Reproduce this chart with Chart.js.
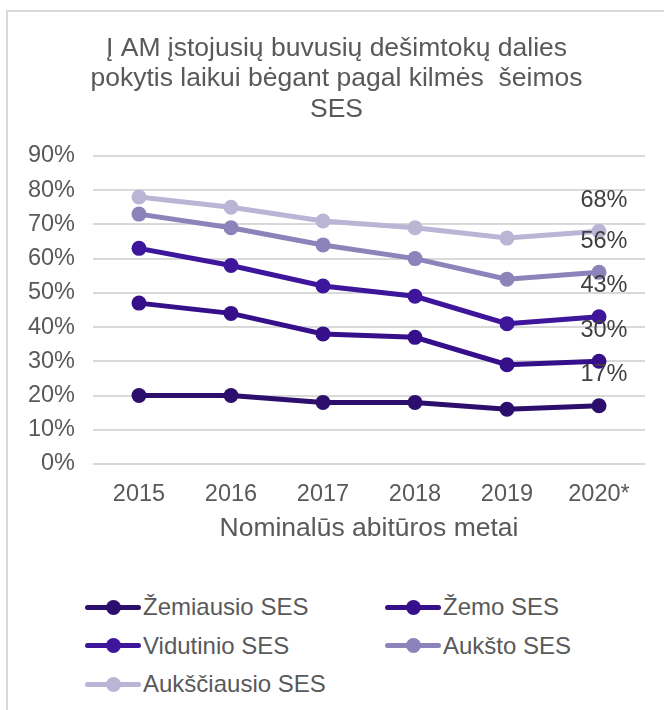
<!DOCTYPE html>
<html lang="lt">
<head>
<meta charset="utf-8">
<title>Į AM įstojusių buvusių dešimtokų dalies pokytis</title>
<script src="https://cdn.jsdelivr.net/npm/chart.js@4.4.1/dist/chart.umd.min.js"></script>
<style>
    html, body {
        margin: 0;
        padding: 0;
        width: 664px;
        height: 710px;
        overflow: hidden;
        background: #ffffff;
        font-family: "Liberation Sans", Arial, sans-serif;
    }
    #remelis {
        position: absolute;
        left: 6px;
        top: 10px;
        width: 700px;
        height: 720px;
        border-left: 2px solid #d9d9d9;
        border-top: 2px solid #d9d9d9;
    }
    #grafikas {
        position: absolute;
        left: 20px;
        top: 0;
    }
    #legenda {
        position: absolute;
        left: 77px;
        top: 576px;
        display: grid;
        grid-template-columns: 300px 250px;
    }
    .legendos-elementas {
        display: flex;
        align-items: center;
        height: 38.5px;
        font-size: 24px;
        color: #595959;
        white-space: nowrap;
    }
    .legendos-zyme {
        position: relative;
        width: 56px;
        height: 16px;
        margin-right: 2px;
    }
    .legendos-zyme .linija {
        position: absolute;
        left: 0;
        right: 0;
        top: 5.5px;
        height: 5px;
        border-radius: 3px;
    }
    .legendos-zyme .taskas {
        position: absolute;
        left: 20.5px;
        top: 0.5px;
        width: 15px;
        height: 15px;
        border-radius: 50%;
    }
</style>
</head>
<body>
<div id="remelis">
    <canvas id="grafikas"></canvas>
    <div id="legenda"></div>
</div>
<script>
// Duomenys
const metai = ['2015', '2016', '2017', '2018', '2019', '2020*'];
const zemiausioSES = [20, 20, 18, 18, 16, 17];
const zemoSES = [47, 44, 38, 37, 29, 30];
const vidutinioSES = [63, 58, 52, 49, 41, 43];
const aukstoSES = [73, 69, 64, 60, 54, 56];
const aukscSES = [78, 75, 71, 69, 66, 68];
const yTickReiksmes = [0, 10, 20, 30, 40, 50, 60, 70, 80, 90];

const pavadinimas = [
    'Į AM įstojusių buvusių dešimtokų dalies',
    'pokytis laikui bėgant pagal kilmės  šeimos',
    'SES'
];
const asiesPavadinimas = 'Nominalūs abitūros metai';

const serijos = [
    { label: 'Žemiausio SES', data: zemiausioSES, spalva: '#2C0F6C' },
    { label: 'Žemo SES', data: zemoSES, spalva: '#36108A' },
    { label: 'Vidutinio SES', data: vidutinioSES, spalva: '#3E169C' },
    { label: 'Aukšto SES', data: aukstoSES, spalva: '#8B83B9' },
    { label: 'Aukščiausio SES', data: aukscSES, spalva: '#BBB5D5' }
];

const SRIFTAS = '"Liberation Sans", Arial, sans-serif';

// Paskutinio taško reikšmės užrašas virš kiekvienos linijos
const paskutinesReiksmes = {
    id: 'paskutinesReiksmes',
    afterDatasetsDraw(chart) {
        const ctx = chart.ctx;
        ctx.save();
        ctx.font = '23.5px ' + SRIFTAS;
        ctx.fillStyle = '#404040';
        ctx.textAlign = 'center';
        ctx.textBaseline = 'middle';
        chart.data.datasets.forEach((ds, i) => {
            const meta = chart.getDatasetMeta(i);
            const paskutinis = meta.data[meta.data.length - 1];
            const reiksme = ds.data[ds.data.length - 1];
            ctx.fillText(reiksme + '%', paskutinis.x + 5, paskutinis.y - 31);
        });
        ctx.restore();
    }
};

const canvas = document.getElementById('grafikas');
canvas.width = 642;
canvas.height = 535;
canvas.style.width = '642px';
canvas.style.height = '535px';

const grafikas = new Chart(canvas.getContext('2d'), {
    type: 'line',
    data: {
        labels: metai,
        datasets: serijos.map(s => ({
            label: s.label,
            data: s.data,
            borderColor: s.spalva,
            backgroundColor: s.spalva,
            pointBackgroundColor: s.spalva,
            pointBorderColor: s.spalva,
            borderWidth: 5,
            pointRadius: 7.5,
            pointBorderWidth: 0,
            tension: 0,
            fill: false
        }))
    },
    options: {
        responsive: false,
        animation: false,
        layout: { padding: { left: 0, right: 25, top: 0, bottom: 0 } },
        plugins: {
            legend: { display: false },
            tooltip: { enabled: false },
            title: {
                display: true,
                text: pavadinimas,
                color: '#595959',
                font: { family: SRIFTAS, size: 26.5, weight: 'normal', lineHeight: 1.15 },
                padding: { top: 21, bottom: 31.5 }
            }
        },
        scales: {
            x: {
                offset: true,
                afterFit(scale) { scale.height = 83; },
                grid: { display: false, drawTicks: false },
                border: { display: false },
                ticks: {
                    color: '#595959',
                    font: { family: SRIFTAS, size: 23.5 },
                    padding: 16,
                    maxRotation: 0,
                    autoSkip: false
                },
                title: {
                    display: true,
                    text: asiesPavadinimas,
                    color: '#595959',
                    font: { family: SRIFTAS, size: 26.5 },
                    padding: { top: 4, bottom: 2 }
                }
            },
            y: {
                min: 0,
                max: 90,
                afterFit(scale) { scale.width = 65; },
                afterBuildTicks(scale) {
                    scale.ticks = yTickReiksmes.map(v => ({ value: v }));
                },
                grid: { color: '#d9d9d9', lineWidth: 2, drawTicks: false },
                border: { display: false },
                ticks: {
                    color: '#595959',
                    font: { family: SRIFTAS, size: 23.5 },
                    padding: 18,
                    callback: v => v + '%'
                }
            }
        }
    },
    plugins: [paskutinesReiksmes]
});

// Legenda dviem stulpeliais
const legenda = document.getElementById('legenda');
grafikas.data.datasets.forEach(ds => {
    const el = document.createElement('div');
    el.className = 'legendos-elementas';
    el.innerHTML = `
        <span class="legendos-zyme">
            <span class="linija" style="background:${ds.borderColor}"></span>
            <span class="taskas" style="background:${ds.borderColor}"></span>
        </span>
        <span>${ds.label}</span>`;
    legenda.appendChild(el);
});
</script>
</body>
</html>
